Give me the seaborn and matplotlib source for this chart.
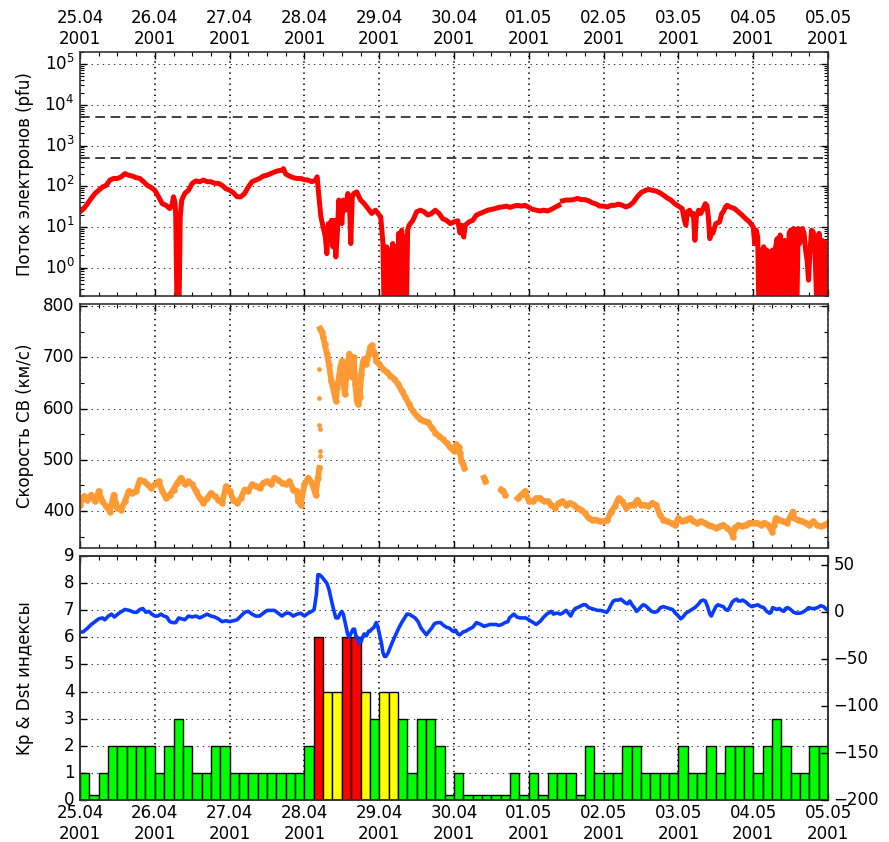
import numpy as np
import pandas as pd
import matplotlib
matplotlib.use("Agg")
import matplotlib.pyplot as plt
import seaborn as sns
from matplotlib.ticker import FixedLocator, MultipleLocator, NullFormatter, LogLocator

# ---------------- data ----------------
date_labels = ["25.04\n2001", "26.04\n2001", "27.04\n2001", "28.04\n2001",
               "29.04\n2001", "30.04\n2001", "01.05\n2001", "02.05\n2001",
               "03.05\n2001", "04.05\n2001", "05.05\n2001"]

# electron flux, time in days from 25.04.2001 00:00, value as log10(pfu); NaN = data gap
flux_day = [0.00, 0.05, 0.10, 0.15, 0.20, 0.25, 0.30, 0.35, 0.40, 0.45, 0.50, 0.55, 0.60, 0.65,
            0.70, 0.75, 0.80, 0.85, 0.90, 0.95, 1.00, 1.05, 1.10, 1.15, 1.20, 1.23, 1.25, 1.27,
            1.28, 1.30, 1.32, 1.34, 1.36, 1.40, 1.45, 1.50, 1.55, 1.60, 1.65, 1.70, 1.75, 1.80,
            1.85, 1.90, 1.95, 2.00, 2.05, 2.10, 2.15, 2.20, 2.25, 2.30, 2.35, 2.40, 2.45, 2.50,
            2.55, 2.60, 2.65, 2.70, 2.72, 2.75, 2.80, 2.85, 2.90, 2.95, 3.00, 3.05, 3.10, 3.15,
            3.17, 3.19, 3.22, 3.25, 3.28, 3.30, 3.32, 3.34, 3.36, 3.38, 3.40, 3.42, 3.44, 3.46,
            3.48, 3.50, 3.52, 3.55, 3.58, 3.60, 3.62, 3.64, 3.66, 3.70, 3.75, 3.80, 3.85, 3.90,
            3.95, 4.00, 4.02, 4.05, 4.07, 4.10, 4.12, 4.14, 4.16, 4.18, 4.20, 4.22, 4.24, 4.26,
            4.28, 4.30, 4.32, 4.34, 4.36, 4.38, 4.40, 4.45, 4.50, 4.55, 4.60, 4.65, 4.70, 4.75,
            4.80, 4.85, 4.90, 4.95, 5.00, 5.05, 5.08, 5.10, 5.13, 5.15, 5.20, 5.25, 5.30, 5.35,
            5.40, 5.45, 5.50, 5.55, 5.60, 5.65, 5.70, 5.75, 5.80, 5.85, 5.90, 5.95, 6.00, 6.05,
            6.10, 6.15, 6.20, 6.25, 6.30, 6.35, 6.40, 6.42, 6.45, 6.50, 6.55, 6.60, 6.65, 6.70,
            6.75, 6.80, 6.85, 6.90, 6.95, 7.00, 7.05, 7.10, 7.15, 7.20, 7.25, 7.30, 7.35, 7.40,
            7.45, 7.50, 7.55, 7.60, 7.65, 7.70, 7.75, 7.80, 7.85, 7.90, 7.95, 8.00, 8.05, 8.08,
            8.10, 8.12, 8.15, 8.18, 8.20, 8.22, 8.24, 8.27, 8.30, 8.33, 8.36, 8.38, 8.40, 8.42,
            8.44, 8.46, 8.50, 8.55, 8.58, 8.60, 8.63, 8.65, 8.70, 8.75, 8.80, 8.85, 8.90, 8.95,
            9.00, 9.02, 9.04, 9.06, 9.08, 9.10, 9.12, 9.14, 9.16, 9.18, 9.20, 9.22, 9.24, 9.26,
            9.28, 9.30, 9.32, 9.34, 9.36, 9.38, 9.40, 9.42, 9.44, 9.46, 9.48, 9.50, 9.52, 9.54,
            9.56, 9.58, 9.60, 9.62, 9.64, 9.66, 9.68, 9.70, 9.72, 9.74, 9.76, 9.78, 9.80, 9.82,
            9.84, 9.86, 9.88, 9.90, 9.92, 9.94, 9.96, 9.98, 10.00]
flux_log10 = [1.37, 1.45, 1.57, 1.70, 1.82, 1.90, 1.98, 2.02, 2.15, 2.19, 2.19, 2.23, 2.31, 2.27,
              2.25, 2.21, 2.19, 2.11, 2.02, 1.97, 1.90, 1.74, 1.57, 1.53, 1.45, 1.55, 1.74, 1.60,
              1.25, -1.5, -1.5, 1.25, 1.66, 1.82, 1.90, 2.07, 2.13, 2.11, 2.15, 2.11, 2.11, 2.07,
              2.07, 2.02, 1.94, 1.90, 1.84, 1.74, 1.74, 1.82, 1.98, 2.11, 2.15, 2.19, 2.25, 2.27,
              2.31, 2.35, 2.38, 2.39, 2.43, 2.30, 2.25, 2.21, 2.19, 2.19, 2.16, 2.15, 2.11, 2.15,
              2.23, 1.82, 1.25, 1.00, 0.75, 0.34, 1.08, 0.67, 1.16, 0.51, 1.16, 0.26, 0.84, 1.66,
              1.41, 1.08, 1.66, 1.41, 1.82, 1.74, 0.59, 1.74, 1.82, 1.86, 1.66, 1.57, 1.45, 1.33,
              1.41, 1.29, 1.25, 0.59, -1.5, 0.51, -1.5, 0.43, -1.5, 0.59, -1.5, 0.51, -1.5, 0.84,
              -1.5, 0.92, 0.43, 0.75, -1.5, 0.92, 1.04, 1.16, 1.37, 1.41, 1.37, 1.29, 1.33, 1.41,
              1.33, 1.20, 1.16, 1.08, 1.12, 1.15, 0.85, 1.04, 0.75, 1.04, 1.12, 1.16, 1.29, 1.33,
              1.37, 1.41, 1.43, 1.45, 1.48, 1.49, 1.51, 1.48, 1.51, 1.53, 1.51, 1.53, 1.48, 1.43,
              1.41, 1.39, 1.41, 1.39, 1.43, 1.48, 1.53, np.nan, 1.64, 1.66, 1.66, 1.67, 1.70, 1.67,
              1.67, 1.64, 1.59, 1.56, 1.51, 1.51, 1.49, 1.53, 1.53, 1.56, 1.53, 1.49, 1.53, 1.61,
              1.74, 1.84, 1.89, 1.92, 1.90, 1.88, 1.84, 1.78, 1.71, 1.66, 1.57, 1.51, 1.45, 1.16,
              1.04, 1.37, 1.41, 1.29, 1.33, 0.67, 1.25, 1.41, 1.33, 1.45, 1.57, 1.53, 1.25, 0.71,
              0.92, 0.84, 1.08, 1.12, 1.33, 1.37, 1.49, 1.53, 1.48, 1.45, 1.37, 1.29, 1.20, 1.12,
              1.00, 0.59, 0.92, 0.75, -1.5, 0.43, -1.5, 0.51, -1.5, 0.43, -1.5, 0.39, -1.5, 0.43,
              -1.5, 0.51, 0.71, -1.5, 0.80, 0.43, -1.5, 0.67, 0.59, -1.5, 0.84, 0.92, -1.5, 0.96,
              0.88, -1.5, 0.96, 0.59, 0.92, 0.96, 0.84, 0.43, 0.18, -0.31, 0.43, 0.92, 0.88, 0.75,
              -0.39, -1.5, 0.84, -1.5, 0.67, -1.5, 0.63, -1.5, 0.51]
flux_thresholds = [500, 5000]

# solar wind speed (km/s); NaN = data gap
speed_day = [0.00, 0.05, 0.10, 0.15, 0.20, 0.25, 0.30, 0.35, 0.40, 0.45, 0.50, 0.55, 0.60, 0.65,
             0.70, 0.75, 0.80, 0.85, 0.90, 0.95, 1.00, 1.05, 1.10, 1.15, 1.20, 1.25, 1.30, 1.35,
             1.40, 1.45, 1.50, 1.55, 1.60, 1.65, 1.70, 1.75, 1.80, 1.85, 1.90, 1.95, 2.00, 2.05,
             2.10, 2.15, 2.20, 2.25, 2.30, 2.35, 2.40, 2.45, 2.50, 2.55, 2.60, 2.65, 2.70, 2.75,
             2.80, 2.85, 2.90, 2.92, 2.95, 3.00, 3.05, 3.10, 3.15, 3.18, 3.20, 3.205,
             3.21, 3.23, 3.25, 3.27, 3.30, 3.33, 3.36, 3.39, 3.42, 3.44, 3.46, 3.48, 3.50, 3.52,
             3.54, 3.56, 3.58, 3.60, 3.62, 3.64, 3.66, 3.68, 3.70, 3.72, 3.74, 3.76, 3.78, 3.80,
             3.82, 3.84, 3.86, 3.88, 3.90, 3.92, 3.94, 3.96, 4.00, 4.05, 4.10, 4.15, 4.20, 4.25,
             4.30, 4.35, 4.40, 4.45, 4.50, 4.55, 4.60, 4.65, 4.70, 4.75, 4.80, 4.85, 4.90, 4.95,
             5.00, 5.03, 5.06, 5.08, 5.10, 5.12, 5.14, 5.20, 5.40, 5.42, 5.50, 5.63, 5.66, 5.68,
             5.75, 5.85, 5.90, 5.95, 6.00, 6.05, 6.10, 6.15, 6.20, 6.25, 6.30, 6.35, 6.40, 6.45,
             6.50, 6.55, 6.60, 6.65, 6.70, 6.75, 6.80, 6.85, 6.90, 6.95, 7.00, 7.05, 7.10, 7.15,
             7.20, 7.25, 7.30, 7.35, 7.40, 7.45, 7.50, 7.55, 7.60, 7.65, 7.70, 7.75, 7.80, 7.85,
             7.90, 7.95, 8.00, 8.05, 8.10, 8.15, 8.20, 8.25, 8.30, 8.35, 8.40, 8.45, 8.50, 8.55,
             8.60, 8.65, 8.70, 8.73, 8.75, 8.80, 8.85, 8.90, 8.95, 9.00, 9.05, 9.10, 9.15, 9.20,
             9.25, 9.28, 9.30, 9.35, 9.40, 9.45, 9.50, 9.53, 9.55, 9.60, 9.65, 9.70, 9.75, 9.80,
             9.85, 9.90, 9.95, 10.00]
speed_val = [412, 429, 422, 432, 419, 439, 419, 409, 399, 432, 406, 403, 419, 439,
             435, 439, 461, 458, 452, 445, 452, 458, 439, 425, 432, 442, 455, 465,
             452, 458, 452, 439, 425, 416, 425, 435, 429, 422, 416, 448, 439, 422,
             416, 425, 442, 439, 452, 448, 445, 455, 458, 452, 465, 461, 455, 452,
             458, 442, 439, 419, 412, 452, 465, 455, 432, 465, 484, np.nan,
             756, 750, 740, 726, 707, 684, 654, 635, 615, 641, 661, 680, 693, 654,
             628, 661, 687, 707, 690, 661, 700, 648, 615, 608, 622, 667, 690, 697,
             687, 697, 707, 720, 723, 713, 707, 693, 687, 677, 671, 664, 658, 648,
             635, 622, 608, 595, 586, 579, 576, 573, 563, 553, 546, 540, 533, 524,
             517, 530, 524, 514, 497, 491, 484, np.nan, 465, 458, np.nan, 442, 439, 432,
             np.nan, 425, 432, 439, 419, 419, 425, 425, 419, 419, 412, 406, 416, 419,
             412, 416, 412, 406, 403, 396, 386, 383, 383, 380, 380, 383, 399, 409,
             425, 419, 406, 412, 412, 422, 412, 412, 409, 416, 412, 393, 383, 380,
             377, 373, 386, 380, 383, 386, 380, 377, 380, 377, 373, 370, 367, 370,
             373, 367, 360, 350, 367, 373, 370, 373, 377, 377, 377, 373, 377, 373,
             360, 373, 386, 383, 380, 377, 390, 399, 386, 383, 380, 377, 373, 380,
             373, 370, 373, 377]
# isolated points during the shock jump (28.04)
speed_jump_day = [3.190, 3.195, 3.200, 3.205, 3.210, 3.215]
speed_jump_val = [677, 620, 568, 560, 517, 507]

# Kp index, 3-hour intervals starting 25.04.2001 00:00
kp_vals = [1, 0.2, 1, 2, 2, 2, 2, 2,
           1, 2, 3, 2, 1, 1, 2, 2,
           1, 1, 1, 1, 1, 1, 1, 1,
           2, 6, 4, 4, 6, 6, 4, 3,
           4, 4, 3, 1, 3, 3, 2, 0.2,
           1, 0.2, 0.2, 0.2, 0.2, 0.2, 1, 0.2,
           1, 0.2, 1, 1, 1, 0.2, 2, 1,
           1, 1, 2, 2, 1, 1, 1, 1,
           2, 1, 1, 2, 1, 2, 2, 2,
           1, 2, 3, 2, 1, 1, 2, 2]

# Dst index (nT)
dst_day = [0.00, 0.04, 0.10, 0.15, 0.20, 0.25, 0.30, 0.33, 0.38, 0.42, 0.46, 0.52, 0.60, 0.66,
           0.72, 0.76, 0.80, 0.84, 0.88, 0.92, 0.96, 1.00, 1.04, 1.08, 1.12, 1.16, 1.20, 1.24,
           1.28, 1.32, 1.36, 1.40, 1.45, 1.50, 1.55, 1.60, 1.65, 1.70, 1.75, 1.80, 1.85, 1.90,
           1.95, 2.00, 2.05, 2.10, 2.15, 2.20, 2.25, 2.30, 2.35, 2.40, 2.45, 2.50, 2.55, 2.60,
           2.65, 2.70, 2.75, 2.80, 2.85, 2.90, 2.95, 3.00, 3.05, 3.10, 3.13, 3.16, 3.18, 3.20,
           3.23, 3.26, 3.28, 3.30, 3.33, 3.36, 3.39, 3.42, 3.45, 3.48, 3.50, 3.52, 3.55, 3.58,
           3.60, 3.62, 3.65, 3.67, 3.69, 3.71, 3.73, 3.76, 3.78, 3.80, 3.83, 3.86, 3.88, 3.90,
           3.93, 3.96, 3.98, 4.00, 4.03, 4.05, 4.07, 4.09, 4.12, 4.15, 4.18, 4.22, 4.26, 4.30,
           4.34, 4.37, 4.40, 4.44, 4.48, 4.52, 4.56, 4.60, 4.63, 4.66, 4.70, 4.74, 4.78, 4.82,
           4.86, 4.90, 4.94, 4.98, 5.02, 5.05, 5.08, 5.12, 5.16, 5.20, 5.25, 5.28, 5.30, 5.33,
           5.36, 5.40, 5.44, 5.48, 5.52, 5.56, 5.60, 5.64, 5.68, 5.72, 5.74, 5.77, 5.80, 5.84,
           5.88, 5.92, 5.96, 6.00, 6.04, 6.08, 6.10, 6.13, 6.16, 6.20, 6.24, 6.28, 6.30, 6.33,
           6.36, 6.39, 6.42, 6.45, 6.48, 6.50, 6.53, 6.56, 6.59, 6.62, 6.65, 6.68, 6.70, 6.73,
           6.76, 6.80, 6.84, 6.88, 6.92, 6.96, 7.00, 7.04, 7.07, 7.10, 7.13, 7.16, 7.20, 7.23,
           7.26, 7.29, 7.32, 7.35, 7.38, 7.41, 7.44, 7.47, 7.50, 7.53, 7.56, 7.60, 7.64, 7.68,
           7.72, 7.76, 7.80, 7.84, 7.88, 7.92, 7.96, 8.00, 8.03, 8.06, 8.10, 8.14, 8.18, 8.22,
           8.26, 8.30, 8.33, 8.36, 8.39, 8.42, 8.44, 8.47, 8.50, 8.53, 8.56, 8.60, 8.63, 8.66,
           8.69, 8.72, 8.75, 8.78, 8.80, 8.83, 8.86, 8.90, 8.94, 8.98, 9.02, 9.06, 9.10, 9.14,
           9.18, 9.22, 9.24, 9.26, 9.29, 9.32, 9.35, 9.38, 9.41, 9.43, 9.46, 9.50, 9.54, 9.58,
           9.62, 9.66, 9.70, 9.74, 9.78, 9.82, 9.86, 9.90, 9.94, 9.98, 10.00]
dst_val = [-21, -21, -17, -13, -10, -7, -6, -8, -4, -2, -5, -1, 3, 2,
           0, 0, 3, 4, 0, 1, -2, -4, -4, -2, -4, -5, -10, -11,
           -11, -6, -7, -8, -4, -5, -4, -6, -4, -2, -4, -5, -7, -10,
           -9, -10, -9, -8, -4, 0, 1, -2, -4, -4, -1, 2, 2, 2,
           -1, -4, -1, -1, -4, -2, -1, -4, -1, 1, 3, 19, 40, 40,
           38, 35, 33, 31, 24, 13, 3, -6, -6, -1, 1, -2, -13, -24,
           -26, -23, -18, -18, -26, -27, -33, -31, -26, -23, -25, -20, -20, -18,
           -16, -11, -15, -22, -33, -43, -47, -47, -43, -37, -31, -24, -17, -11,
           -6, -2, -2, -4, -6, -10, -17, -21, -24, -21, -17, -12, -11, -11,
           -14, -16, -17, -20, -19, -23, -24, -21, -20, -18, -16, -13, -11, -12,
           -13, -15, -14, -13, -13, -13, -14, -13, -11, -10, -6, -4, -2, -5,
           -6, -6, -6, -8, -10, -12, -13, -11, -9, -5, -2, 0, 1, -2,
           -1, -1, -2, -1, 1, 2, -1, -4, 1, 4, 5, 6, 7, 8,
           8, 5, 4, 3, 2, 2, 1, 0, 3, 8, 12, 13, 13, 14,
           12, 10, 9, 12, 8, 5, 1, 3, 6, 8, 7, 4, 1, 0,
           1, 5, 6, 5, 4, 3, -1, -4, -7, -5, -1, 1, 3, 5,
           8, 12, 13, 12, 6, -2, -4, 1, 6, 8, 7, 6, 3, 2,
           6, 11, 13, 14, 12, 12, 13, 11, 8, 6, 7, 8, 6, 5,
           1, -1, 0, 5, 4, 3, 4, 2, 1, 4, 5, 3, 0, -1,
           -1, 0, 2, 5, 4, 4, 5, 7, 6, 3, 2]

# ---------------- style ----------------
plt.style.use("classic")
plt.rcParams.update({
    "figure.facecolor": "white",
    "savefig.facecolor": "white",
    "font.family": ["DejaVu Sans"],
    "font.size": 12,
    "xtick.direction": "in",
    "ytick.direction": "in",
})

RED = "#ff0000"
ORANGE = "#ff9933"
BLUE = "#0a3cff"

fig = plt.figure(figsize=(8.89, 8.42), dpi=100)
L, W, H = 0.090, 0.8414, 0.2898
ax1 = fig.add_axes([L, 0.6485, W, H])
ax2 = fig.add_axes([L, 0.3492, W, H])
ax3 = fig.add_axes([L, 0.0499, W, H])


def seg_frame(days, vals):
    df = pd.DataFrame({"day": days, "val": vals})
    df["seg"] = df["val"].isna().cumsum()
    return df.dropna()


def style_x(ax, labels_top=False, labels_bottom=False):
    ax.set_xlim(0, 10)
    ax.xaxis.set_major_locator(FixedLocator(list(range(11))))
    ax.xaxis.set_minor_locator(MultipleLocator(0.25))
    ax.set_xticklabels(date_labels)
    ax.tick_params(axis="x", which="both", top=True, bottom=True,
                   labeltop=labels_top, labelbottom=labels_bottom)
    ax.tick_params(axis="both", which="major", length=5, width=1)
    ax.tick_params(axis="both", which="minor", length=3, width=0.8)
    ax.tick_params(axis="x", which="major", pad=3)
    ax.grid(True, which="major", axis="x", ls=":", color="k", lw=1.2)
    ax.grid(True, which="major", axis="y", ls=":", color="0.2", lw=0.7)
    ax.set_axisbelow(True)
    ax.set_xlabel("")
    for s in ax.spines.values():
        s.set_linewidth(1.2)
        s.set_color("0.2")


# ---- panel 1: electron flux ----
fdf = seg_frame(flux_day, flux_log10)
fdf["flux"] = 10.0 ** fdf["val"]
sns.lineplot(data=fdf, x="day", y="flux", units="seg", estimator=None,
             color=RED, lw=3.6, ax=ax1, sort=False)
ax1.set_yscale("log")
ax1.set_ylim(0.2, 2e5)
ax1.yaxis.set_major_locator(LogLocator(base=10, numticks=10))
ax1.yaxis.set_minor_locator(LogLocator(base=10, subs=np.arange(2, 10), numticks=20))
ax1.yaxis.set_minor_formatter(NullFormatter())
for t in flux_thresholds:
    ax1.axhline(t, color="0.2", lw=1.3, dashes=(7, 4))
style_x(ax1, labels_top=True)
ax1.set_ylabel("Поток электронов (pfu)")

# ---- panel 2: solar wind speed ----
sdf = seg_frame(speed_day, speed_val)
sns.lineplot(data=sdf, x="day", y="val", units="seg", estimator=None,
             color=ORANGE, lw=4.2, ax=ax2, sort=False)
sns.scatterplot(x=sdf["day"], y=sdf["val"], color=ORANGE, s=22, linewidth=0, ax=ax2)
sns.scatterplot(x=speed_jump_day, y=speed_jump_val, color=ORANGE, s=12, linewidth=0, ax=ax2)
ax2.set_ylim(328, 804)
ax2.yaxis.set_major_locator(FixedLocator([400, 500, 600, 700, 800]))
ax2.yaxis.set_minor_locator(MultipleLocator(50))
style_x(ax2)
ax2.set_ylabel("Скорость СВ (км/с)")

# ---- panel 3: Kp bars + Dst ----
kp_start = np.arange(len(kp_vals)) * 0.125
kp_colors = [RED if k >= 5 else ("#ffff00" if k >= 4 else "#00ff00") for k in kp_vals]
ax3.bar(kp_start, kp_vals, width=0.125, align="edge", color=kp_colors,
        edgecolor="k", linewidth=1.0, zorder=2)
ax3.set_ylim(0, 9)
ax3.yaxis.set_major_locator(FixedLocator(list(range(10))))
style_x(ax3, labels_bottom=True)
ax3.set_ylabel("Kp & Dst индексы")

ax3b = ax3.twinx()
sns.lineplot(x=dst_day, y=dst_val, color=BLUE, lw=2.6, ax=ax3b, estimator=None)
ax3b.set_ylim(-200, 60)
ax3b.yaxis.set_major_locator(FixedLocator([-200, -150, -100, -50, 0, 50]))
ax3b.tick_params(axis="y", direction="in", length=5, width=1)
ax3b.set_xlim(0, 10)
for s in ax3b.spines.values():
    s.set_linewidth(1.2)
    s.set_color("0.2")

for ax in (ax1, ax2, ax3):
    ax.yaxis.set_label_coords(-0.062, 0.5)

fig.savefig("out.png", dpi=100)
